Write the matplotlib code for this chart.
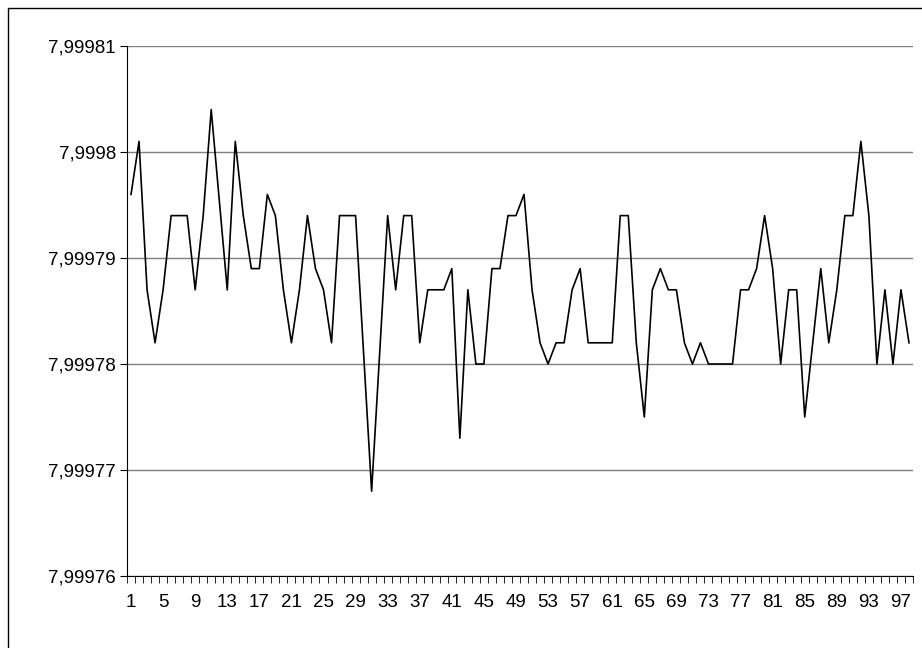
import numpy as np
import matplotlib
matplotlib.use("Agg")
import matplotlib.pyplot as plt
from matplotlib.ticker import FuncFormatter, FixedLocator
from matplotlib.patches import Rectangle

# values in units of 1e-6 above 7.9997
offsets = [96, 101, 87, 82, 87, 94, 94, 94, 87, 94, 104, 95.5, 87, 101, 94, 89, 89, 96, 94, 87,
           82, 87, 94, 89, 87, 82, 94, 94, 94, 81, 68, 81, 94, 87, 94, 94, 82, 87, 87, 87,
           89, 73, 87, 80, 80, 89, 89, 94, 94, 96, 87, 82, 80, 82, 82, 87, 89, 82, 82, 82,
           82, 94, 94, 82, 75, 87, 89, 87, 87, 82, 80, 82, 80, 80, 80, 80, 87, 87, 89, 94,
           89, 80, 87, 87, 75, 82, 89, 82, 87, 94, 94, 101, 94, 80, 87, 80, 87, 82]
values = [7.9997 + o * 1e-6 for o in offsets]
x = np.arange(1, len(values) + 1)
yticks = [7.99976, 7.99977, 7.99978, 7.99979, 7.9998, 7.99981]
plt.rcParams["font.family"] = ["Liberation Sans", "DejaVu Sans"]

fig = plt.figure(figsize=(9.22, 6.48), dpi=100)
ax = fig.add_axes([127 / 922, 1 - 576 / 648, (913 - 127) / 922, (576 - 46) / 648])
fig.patches.append(Rectangle((8 / 922, -0.01), 1.02, 1 - 8 / 648 + 0.01, transform=fig.transFigure,
                             fill=False, edgecolor="black", linewidth=1))

ax.plot(x, values, color="black", linewidth=1.2)
ax.set_xlim(0.5, len(values) + 0.5)
ax.set_ylim(yticks[0], yticks[-1])
ax.set_yticks(yticks)
ax.yaxis.set_major_formatter(FuncFormatter(lambda v, p: f"{v:.5f}".rstrip("0").replace(".", ",")))
ax.grid(axis="y", color="#808080", linewidth=1)
ax.set_axisbelow(True)

ax.xaxis.set_major_locator(FixedLocator(x[::4]))
ax.xaxis.set_minor_locator(FixedLocator(np.arange(0.5, len(values) + 1, 1)))
ax.tick_params(axis="x", which="major", length=0, pad=13, labelsize=13.5)
ax.tick_params(axis="x", which="minor", length=5, direction="out", color="black")
ax.tick_params(axis="y", length=5, direction="out", labelsize=13.5, pad=3)

for s in ["top", "right"]:
    ax.spines[s].set_visible(False)
ax.spines["left"].set_color("black")
ax.spines["bottom"].set_color("black")

fig.savefig("out.png", dpi=100)
